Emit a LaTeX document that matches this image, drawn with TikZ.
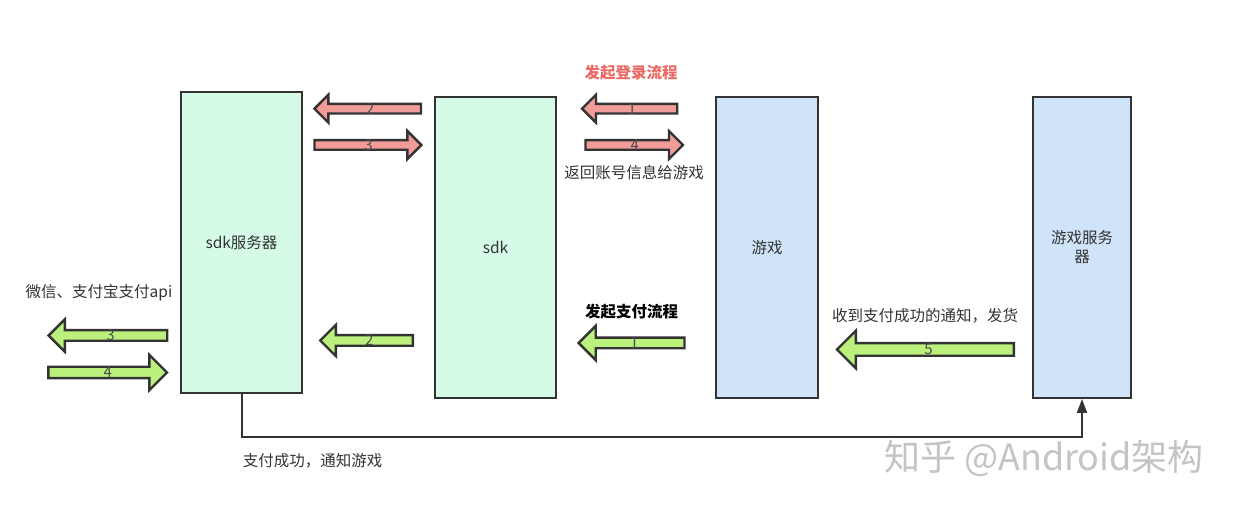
\documentclass[tikz,border=0pt]{standalone}
\usepackage{fontspec}
\setmainfont{Noto Sans CJK SC}
\usetikzlibrary{shapes.arrows,arrows.meta}
\definecolor{strk}{HTML}{333333}
\definecolor{mint}{HTML}{D5FBE7}
\definecolor{lblue}{HTML}{CFE4F9}
\definecolor{pinkf}{HTML}{F19C99}
\definecolor{limef}{HTML}{BBF07C}
\definecolor{redtxt}{HTML}{EA6B66}
\definecolor{txt}{HTML}{333333}
\definecolor{numc}{HTML}{4A4A4A}
\definecolor{wm}{HTML}{C4C4C4}
\tikzset{
  box/.style={draw=strk, line width=2pt, rectangle, inner sep=0pt, text=txt, font=\fontsize{15.5}{19}\selectfont, align=center},
  blockarrow/.style={single arrow, draw=strk, line width=2.4pt, inner xsep=0pt, anchor=tip,
     single arrow head indent=0pt, minimum width=0pt, text=numc, font=\fontsize{15}{15}\selectfont},
  parrow/.style={blockarrow, fill=pinkf, inner ysep=3.6pt, single arrow head extend=9.2pt},
  garrow/.style={blockarrow, fill=limef},
  toleft/.style={shape border rotate=180},
  lbl/.style={text=txt, font=\fontsize{15.5}{19}\selectfont, inner sep=0pt}
}
% number on a left-pointing / right-pointing block arrow, nudged to the arrow's middle
\newcommand{\numL}[1]{\smash{\raisebox{-0.36em}{#1}}\hspace{6pt}}
\newcommand{\numR}[1]{\hspace{6pt}\smash{\raisebox{-0.36em}{#1}}}
\begin{document}
\begin{tikzpicture}[x=1pt,y=-1pt]
\useasboundingbox (0,0) rectangle (1240,510);
\fill[white] (0,0) rectangle (1240,510);

% boxes
\node[box, fill=mint, minimum width=121pt, minimum height=301pt] (srv) at (241.5,242.5) {sdk服务器};
\node[box, fill=mint, minimum width=121pt, minimum height=301pt] (sdk) at (495.5,247.5) {sdk};
\node[box, fill=lblue, minimum width=102pt, minimum height=301pt] (game) at (767,247.5) {游戏};
\node[box, fill=lblue, minimum width=98pt, minimum height=301pt] (gsrv) at (1082,247.5) {游戏服务\\器};

% pink arrows (login), placed by their tips
\node[parrow, toleft, minimum height=106.6pt] (p2) at (312.7,108.7) {\numL{2}};
\node[parrow, minimum height=106.9pt] (p3) at (423.1,145) {\numR{3}};
\node[parrow, toleft, minimum height=95.2pt] (p1) at (580.3,108.7) {\numL{1}};
\node[parrow, minimum height=97.5pt] (p4) at (684.7,145) {\numR{4}};

% green arrows (payment), placed by their tips
\node[garrow, toleft, inner ysep=4.1pt, single arrow head extend=11pt, minimum height=118.7pt] (g3) at (46.9,335.5) {\numL{3}};
\node[garrow, inner ysep=4.5pt, single arrow head extend=12pt, minimum height=118.7pt] (g4) at (168.7,372.5) {\numR{4}};
\node[garrow, toleft, inner ysep=4.1pt, single arrow head extend=10.2pt, minimum height=92.5pt] (g2) at (318.6,340.5) {\numL{2}};
\node[garrow, toleft, inner ysep=4.1pt, single arrow head extend=11.8pt, minimum height=105.9pt] (g1) at (576.9,343) {\numL{1}};
\node[garrow, toleft, inner ysep=5.1pt, single arrow head extend=12.5pt, minimum height=176.8pt] (g5) at (835.3,349.5) {\numL{5}};

% labels
\node[lbl, text=redtxt, font=\fontsize{15.5}{19}\selectfont\bfseries] (tlogin) at (631,73) {发起登录流程};
\node[lbl] (tret) at (634,173) {返回账号信息给游戏};
\node[lbl, text=black, font=\fontsize{15.5}{19}\selectfont\bfseries] (tpay) at (631.5,312) {发起支付流程};
\node[lbl] (trecv) at (925,315.5) {收到支付成功的通知，发货};
\node[lbl] (tapi) at (99,292.5) {微信、支付宝支付api};
\node[lbl] (tok) at (312.5,460.5) {支付成功，通知游戏};

% connector
\coordinate (bend) at (srv.south |- 0,436.7);
\draw[strk, line width=2pt, -{Triangle[length=14pt,width=10pt]}] (srv.south) -- (bend) -| (gsrv.south);

% watermark
\node[text=wm, font=\fontsize{36}{36}\selectfont, inner sep=0pt] (wmark) at (1044,458.5) {知乎 @Android架构};
\end{tikzpicture}
\end{document}
